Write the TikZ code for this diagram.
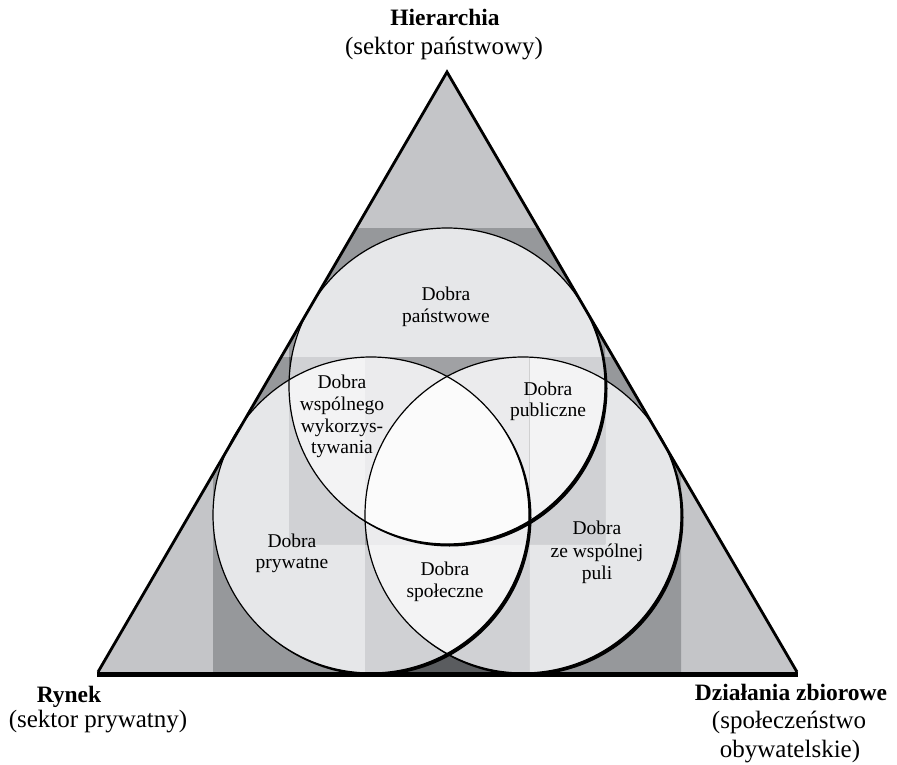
\documentclass[tikz,border=0pt]{standalone}
\usepackage{fontspec}
\setmainfont{Liberation Serif}
\usetikzlibrary{calc}
\definecolor{cA}{HTML}{C4C5C8}
\definecolor{cB}{HTML}{96989B}
\definecolor{cC}{HTML}{E6E7E9}
\definecolor{cD}{HTML}{5A5C5F}
\definecolor{cE}{HTML}{D0D1D4}
\definecolor{cF}{HTML}{F3F3F4}
\definecolor{cG}{HTML}{3E4043}
\definecolor{cH}{HTML}{A0A1A4}
\definecolor{cI}{HTML}{EBEBED}
\definecolor{cJ}{HTML}{FBFBFB}
\newcommand\paintstage[5]{%
  \begin{scope}
    \clip #1;
    \fill[#2] (0,0) rectangle (897,765);
    \fill[#3] (cT) circle[radius=158pt];
    \fill[#3] (cL) circle[radius=158pt];
    \fill[#3] (cR) circle[radius=158pt];
    \begin{scope}\clip (cT) circle[radius=158pt];
      \fill[#4] (cL) circle[radius=158pt];
      \fill[#4] (cR) circle[radius=158pt];
    \end{scope}
    \begin{scope}\clip (cL) circle[radius=158pt];
      \fill[#4] (cR) circle[radius=158pt];
    \end{scope}
    \begin{scope}\clip (cT) circle[radius=158pt]; \clip (cL) circle[radius=158pt];
      \fill[#5] (cR) circle[radius=158pt];
    \end{scope}
  \end{scope}}
\newcommand\shadowring[1]{%
  \begin{scope}[even odd rule]
    \clip (0,0) rectangle (897,765) (#1) circle[radius=158pt];
    \fill[black] ($(#1)+(2.5,2.5)$) circle[radius=158pt];
  \end{scope}
  \draw[line width=1.2pt] (#1) circle[radius=158pt];}
\tikzset{
  inner/.style={anchor=base, inner sep=0pt, font=\fontsize{19.5}{21}\selectfont},
  outer/.style={anchor=base, inner sep=0pt, font=\fontsize{25}{27}\selectfont},
  outerb/.style={anchor=base, inner sep=0pt, font=\fontsize{23.5}{25}\selectfont\bfseries},
}
\begin{document}
\begin{tikzpicture}[x=1pt,y=-1pt]
\useasboundingbox (0,0) rectangle (897,765);
\fill[white] (0,0) rectangle (897,765);
\coordinate (apex) at (447,72);
\coordinate (bl) at (98,672);
\coordinate (br) at (797,672);
\coordinate (cT) at (447,386);
\coordinate (cL) at (371,515);
\coordinate (cR) at (523,515);
\begin{scope}
  \clip (bl) -- (apex) -- (br) -- cycle;
  \fill[cA] (bl) -- (apex) -- (br) -- cycle;
  \paintstage{(289,228) rectangle (605,544) (213,357) rectangle (529,673) (365,357) rectangle (681,673)}{cB}{cC}{cC}{cC}
  \paintstage{(289,357) rectangle (529,544) (365,357) rectangle (605,544) (365,357) rectangle (529,673)}{cD}{cE}{cF}{cF}
  \paintstage{(365,357) rectangle (529,544)}{cG}{cH}{cI}{cJ}
\end{scope}
\shadowring{cT}
\shadowring{cL}
\shadowring{cR}
\draw[line width=2.8pt, line join=miter] (bl) -- (apex) -- (br);
\draw[line width=5pt] ($(bl)+(-1,2.5)$) -- ($(br)+(1,2.5)$);
% outer labels
\node[outerb] (hier) at (445,26) {Hierarchia};
\node[outer] (hiers) at (444,55) {(sektor państwowy)};
\node[outerb] (ryn) at (69,702) {Rynek};
\node[outer] (ryns) at (98,727) {(sektor prywatny)};
\node[outerb] (dz) at (791,700) {Działania zbiorowe};
\node[outer] (dza) at (789,728) {(społeczeństwo};
\node[outer] (dzb) at (790,757) {obywatelskie)};
% inner labels
\node[inner] (pa1) at (446,300) {Dobra};
\node[inner] (pa2) at (446,322) {państwowe};
\node[inner] (ws1) at (342,388) {Dobra};
\node[inner] (ws2) at (342,410) {wspólnego};
\node[inner] (ws3) at (342,432) {wykorzys-};
\node[inner] (ws4) at (342,453) {tywania};
\node[inner] (pu1) at (548,395) {Dobra};
\node[inner] (pu2) at (548,416) {publiczne};
\node[inner] (pr1) at (292,547) {Dobra};
\node[inner] (pr2) at (292,568) {prywatne};
\node[inner] (sp1) at (445,575) {Dobra};
\node[inner] (sp2) at (445,597) {społeczne};
\node[inner] (zw1) at (597,534) {Dobra};
\node[inner] (zw2) at (597,557) {ze wspólnej};
\node[inner] (zw3) at (597,579) {puli};
\end{tikzpicture}
\end{document}
